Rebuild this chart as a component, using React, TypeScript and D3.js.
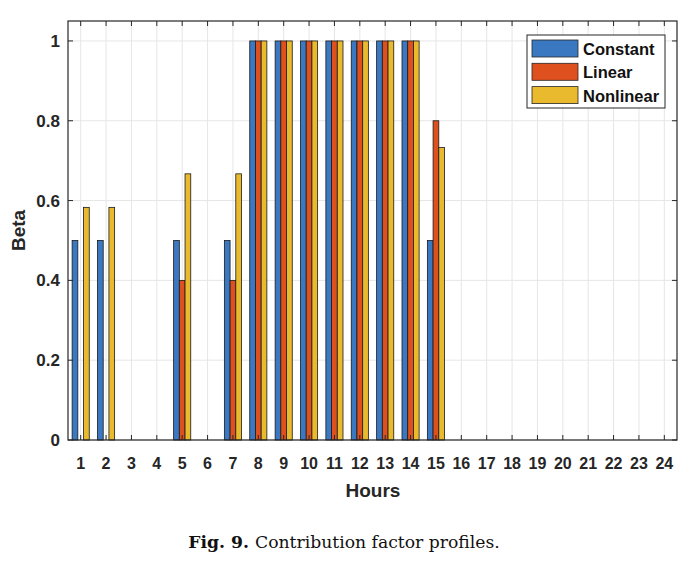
import React from "react";
import * as d3 from "d3";

const hours = d3.range(1, 25).map(String);
const seriesNames = ["Constant", "Linear", "Nonlinear"];
const constantVals = [0.5, 0.5, 0, 0, 0.5, 0, 0.5, 1, 1, 1, 1, 1, 1, 1, 0.5, 0, 0, 0, 0, 0, 0, 0, 0, 0];
const linearVals = [0, 0, 0, 0, 0.4, 0, 0.4, 1, 1, 1, 1, 1, 1, 1, 0.8, 0, 0, 0, 0, 0, 0, 0, 0, 0];
const nonlinearVals = [0.583, 0.583, 0, 0, 0.667, 0, 0.667, 1, 1, 1, 1, 1, 1, 1, 0.733, 0, 0, 0, 0, 0, 0, 0, 0, 0];
const yTicks = [0, 0.2, 0.4, 0.6, 0.8, 1];
const colors = ["#3b78c2", "#df501f", "#e9ba2e"];

const W = 693, H = 565;
const L = 68, R = 677, T = 21, B = 440;

export default function App() {
  const x = d3.scaleBand<string>().domain(hours).range([L, R]).padding(0);
  const y = d3.scaleLinear().domain([0, 1.05]).range([B, T]);
  const series = [constantVals, linearVals, nonlinearVals];
  const bw = x.bandwidth() * 0.225;
  const font = "'Liberation Sans', Arial, sans-serif";
  return (
    <svg width={W} height={H} style={{ position: "absolute", left: 0, top: 0, background: "#fff" }}>
      <rect x={0} y={0} width={W} height={H} fill="#fff" />
      {/* grid */}
      {hours.map((h) => (
        <line key={"gx" + h} x1={x(h)! + x.bandwidth() / 2} x2={x(h)! + x.bandwidth() / 2} y1={T} y2={B} stroke="#e6e6e6" strokeWidth={1} />
      ))}
      {yTicks.map((t) => (
        <line key={"gy" + t} x1={L} x2={R} y1={y(t)} y2={y(t)} stroke="#e6e6e6" strokeWidth={1} />
      ))}
      {/* bars */}
      {series.map((vals, si) =>
        vals.map((v, i) => {
          const cx = x(hours[i])! + x.bandwidth() / 2;
          const bx = cx + (si - 1.5) * bw;
          return (
            <rect key={si + "-" + i} x={bx} y={y(v)} width={bw} height={y(0) - y(v)} fill={colors[si]} stroke="#1a1a1a" strokeWidth={0.8} />
          );
        })
      )}
      {/* box */}
      <rect x={L} y={T} width={R - L} height={B - T} fill="none" stroke="#262626" strokeWidth={1.2} />
      {/* ticks */}
      {hours.map((h) => {
        const cx = x(h)! + x.bandwidth() / 2;
        return (
          <g key={"tx" + h}>
            <line x1={cx} x2={cx} y1={B} y2={B - 5} stroke="#262626" />
            <line x1={cx} x2={cx} y1={T} y2={T + 5} stroke="#262626" />
            <text x={cx} y={B + 29} textAnchor="middle" fontFamily={font} fontWeight="bold" fontSize={16} fill="#262626">{h}</text>
          </g>
        );
      })}
      {yTicks.map((t) => (
        <g key={"ty" + t}>
          <line x1={L} x2={L + 5} y1={y(t)} y2={y(t)} stroke="#262626" />
          <line x1={R} x2={R - 5} y1={y(t)} y2={y(t)} stroke="#262626" />
          <text x={L - 8} y={y(t) + 6} textAnchor="end" fontFamily={font} fontWeight="bold" fontSize={17} fill="#262626">{String(t)}</text>
        </g>
      ))}
      {/* axis labels */}
      <text x={373} y={497} textAnchor="middle" fontFamily={font} fontWeight="bold" fontSize={19} fill="#262626">Hours</text>
      <text transform={`translate(25,${(T + B) / 2}) rotate(-90)`} textAnchor="middle" fontFamily={font} fontWeight="bold" fontSize={19} fill="#262626">Beta</text>
      {/* legend */}
      <rect x={527} y={35} width={138} height={73} fill="#fff" stroke="#262626" strokeWidth={1} />
      {seriesNames.map((n, i) => (
        <g key={n}>
          <rect x={532} y={40 + i * 23.3} width={46} height={17} fill={colors[i]} stroke="#262626" strokeWidth={0.8} />
          <text x={583} y={55 + i * 23.3} fontFamily={font} fontWeight="bold" fontSize={16.5} fill="#111">{n}</text>
        </g>
      ))}
      {/* caption */}
      <text x={344} y={548} textAnchor="middle" fontFamily="'DejaVu Serif', 'Liberation Serif', serif" fontSize={17.2} fill="#111">
        <tspan fontWeight="bold">Fig. 9.</tspan>
        <tspan dx={6}>Contribution factor profiles.</tspan>
      </text>
    </svg>
  );
}
